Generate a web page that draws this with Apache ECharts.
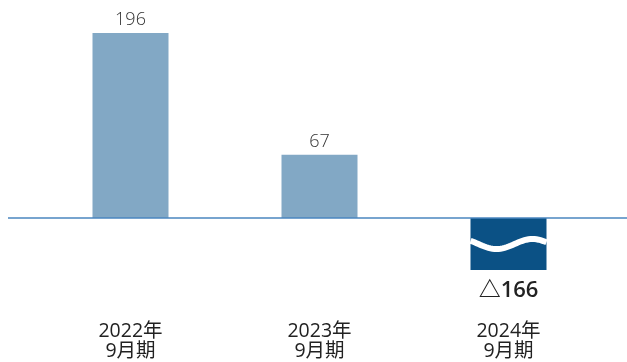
<!DOCTYPE html>
<html>
<head>
<meta charset="utf-8">
<script src="https://cdn.jsdelivr.net/npm/echarts@6/dist/echarts.min.js"></script>
<style>html,body{margin:0;padding:0;background:#fff;}#c{width:627px;height:362px;}</style>
</head>
<body>
<div id="c"></div>
<script>
const categories = ['2022年\n9月期', '2023年\n9月期', '2024年\n9月期'];
const values = [196, 67, -166];
const axisMin = -55;   // broken (truncated) axis floor
const axisMax = 196;

const FONT = '"Open Sans", "Noto Sans CJK JP", sans-serif';
const chart = echarts.init(document.getElementById('c'), null, {renderer: 'canvas'});

const barData = values.map(v => ({
  value: v,
  itemStyle: {color: v < 0 ? '#0b5185' : '#82a8c5'},
  label: {show: v >= 0}
}));
const negData = values.map((v, i) => [i, v]).filter(d => d[1] < 0);

chart.setOption({
  animation: false,
  grid: {left: 36, width: 567, top: 33, height: 237},
  xAxis: {
    type: 'category',
    data: categories,
    axisLine: {show: false, onZero: false},
    axisTick: {show: false},
    axisLabel: {margin: 51, fontFamily: FONT, fontSize: 19.5, lineHeight: 20, color: '#222'}
  },
  yAxis: {type: 'value', min: axisMin, max: axisMax, show: false, splitLine: {show: false}},
  series: [
    {
      type: 'bar',
      data: barData,
      barWidth: 76,
      clip: true,
      z: 2,
      label: {position: 'top', distance: 4, fontFamily: FONT, fontSize: 18, fontWeight: 300, color: '#333'}
    },
    {
      type: 'custom',
      data: negData,
      clip: false,
      z: 5,
      renderItem: function (params, api) {
        const idx = api.value(0);
        const v = api.value(1);
        const top = api.coord([idx, 0]);
        const bot = api.coord([idx, axisMin]);
        const cx = top[0];
        const w = 76;
        const x0 = cx - w / 2, x1 = cx + w / 2;
        const yc = (top[1] + bot[1]) / 2;
        const pts = [];
        for (let x = x0; x <= x1 + 0.01; x += 2) {
          pts.push([x, yc - 5 * Math.cos(2 * Math.PI * (x - (cx + 24)) / 72)]);
        }
        return {
          type: 'group',
          children: [
            {type: 'polyline', z2: 10, shape: {points: pts}, style: {stroke: '#ffffff', lineWidth: 6, fill: 'none'}},
            {type: 'text', x: cx, y: bot[1] + 21,
             style: {text: '△' + Math.abs(v), fontFamily: FONT, fontSize: 22, fontWeight: 600,
                     fill: '#222', align: 'center', verticalAlign: 'middle'}}
          ]
        };
      }
    }
  ]
});

const y0 = chart.convertToPixel({yAxisIndex: 0}, 0);
chart.setOption({
  graphic: [{type: 'line', shape: {x1: 8, y1: y0, x2: 627, y2: y0}, style: {stroke: '#4a86bf', lineWidth: 1.5}, z: 10}]
});
</script>
</body>
</html>
